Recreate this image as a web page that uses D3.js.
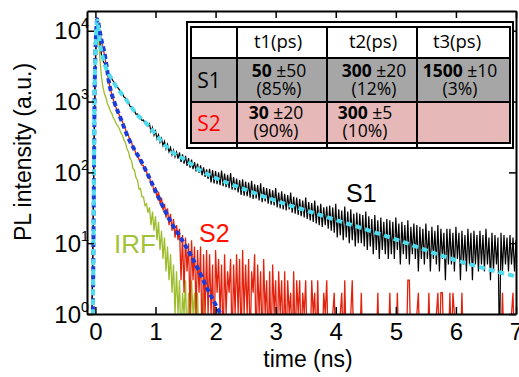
<!DOCTYPE html>
<html>
<head>
<meta charset="utf-8">
<script src="https://cdn.jsdelivr.net/npm/d3@7"></script>
<style>
  body { margin: 0; background: #fff; }
  svg { display: block; }
</style>
</head>
<body>
<script>
// time grid of the decay histograms (ns)
const t0 = -0.1, dt = 0.025;

// S1 counts, one value per dt
const s1Counts = [
  0,0,2,180,3500,13500,11000,6800,4600,3800,3450,3050,2750,2450,2250,2080,1920,1800,1680,1560,
  1460,1350,1300,1160,1120,1010,970,860,840,750,740,660,670,600,600,540,550,490,505,450,
  484,377,431,335,383,299,341,265,302,238,274,215,249,195,224,177,206,165,194,156,
  191,140,180,133,171,123,159,117,151,111,140,103,133,98,126,91,118,86,110,81,
  112,72,108,70,104,68,100,66,106,64,96,62,92,60,98,57,86,56,82,52,
  78,48,80,47,74,46,72,44,76,42,68,43,66,40,70,38,62,39,60,36,
  58,35,56,34,60,32,52,31,54,30,50,29,48,30,52,27,45,26,44,25,
  42,24,40,23,44,22,38,21,37,20,40,19,34,18,36,17,32,18,33,16,
  34,15,32,14,36,12,30,13,29,11,33,12,28,10,30,11,26,9,27,10,
  26,10,25,9,28,8,24,9,22,7,25,8,21,6,23,8,20,7,22,6,
  21,7,20,6,23,8,19,5,20,7,18,6,21,5,17,7,19,6,18,4,
  17,6,16,5,19,6,15,4,17,6,15,5,18,4,16,6,14,3,16,5,
  16,5,14,4,17,6,14,3,15,5,13,4,16,5,14,3,15,5,13,4,
  15,5,13,4,16,5,12,3,14,4,13,5,12,0,14,4,13,5,12,4,
  13,5,12,4,11
];

// S2 counts
const s2Counts = [
  0,0,3,200,4000,15000,13500,9500,7200,5800,4600,3500,2500,1900,1500,1250,1050,900,800,700,
  640,550,520,440,410,345,330,280,268,222,216,182,180,152,150,126,125,104,103,86,
  86,68,72,52,62,44,53,36,44,29,36,23,31,18,26,15,22,12,18,11,
  16,3,13,2,12,4,10,1,11,3,9,1,8,2,9,0,7,1,8,1,
  7,1,5,0,8,2,6,1,5,0,7,1,4,2,6,0,5,1,7,1,
  6,0,8,1,5,1,6,0,4,2,7,0,5,1,4,0,6,1,3,0,
  4,0,5,1,3,0,4,1,3,0,4,0,3,1,2,0,4,0,3,1,
  3,0,2,1,3,0,1,0,3,1,2,0,3,0,1,0,2,1,3,0,
  1,0,1,2,0,1,0,1,2,0,3,0,1,0,1,3,0,1,0,1,
  0,2,0,1,0,1,0,0,1,0,1,0,2,0,1,0,0,1,0,0,
  2,0,1,0,0,2,0,1,0,0,1,0,3,3,0,1,0,0,1,2,
  0,1,0,0,1,0,2,0,1,0,0,1,2,0,2,2,0,1,0,0,
  2,0,2,1,0,0,1,0,2,0,1,0,0,1,0,0,1,0,0,1,
  0,0,1,0,1,0,0,1,0,0,1,0,0,1,0,2,0,1,0,0,
  0,1,2,0,1
];

// instrument response
const irfCounts = [
  0,0,2,150,4000,14000,9000,4000,2250,1600,1300,1130,940,840,730,670,580,540,480,450,
  410,360,335,285,262,214,196,160,146,114,108,84,78,58,59,45,45,34,36,27,
  32,18,28,15,24,11,20,8,15,6,12,4,9,3,7,2,5,1,4,1,
  3,0,2,1,3,0,2,0,3,1,2,0,2,0,1,0,2,0,1,0,
  0,1,0,0
];

// fitted decays
const fitS1T = [-0.045,-0.03,-0.01,0.03,0.07,0.13,0.3,0.5,0.67,0.87,1.1,1.29,1.41,1.57,1.74,1.95,2.52,3.07,3.62,4.1,4.62,5.18,5.73,6.28,7.0];
const fitS1V = [0.5,20,2000,14000,7000,4000,1900,1100,690,470,275,190,166,135,107,87,56,38,27,20,14.5,10,6.8,4.9,3.4];
const fitS2T = [-0.045,-0.03,-0.01,0.03,0.07,0.10,0.15,0.24,0.32,0.43,0.54,0.65,0.74,0.82,0.91,1.07,1.24,1.41,1.57,1.74,1.87,2.02,2.1];
const fitS2V = [0.5,20,2000,14500,10000,7400,4900,1620,955,550,316,209,155,115,80,41,21,12.3,7.2,3.8,2.2,1.26,0.93];

const xTicks = [0,1,2,3,4,5,6,7];
const yTicks = [1,10,100,1000,10000];

// table contents
const tableHead = ["", "t1(ps)", "t2(ps)", "t3(ps)"];
const tableRows = ["S1", "S2"];
const tauS1 = [["50","±50","(85%)"],["300","±20","(12%)"],["1500","±10","(3%)"]];
const tauS2 = [["30","±20","(90%)"],["300","±5","(10%)"]];

const W = 519, H = 377;
const mLeft = 87, mRight = 516, mTop = 11, mBottom = 314;
const font = "'Liberation Sans', Arial, sans-serif";

const svg = d3.select("body").append("svg")
  .attr("width", W).attr("height", H)
  .style("background", "#fff");

const x = d3.scaleLinear().domain([-0.14, 7.0]).range([mLeft, mRight]);
const y = d3.scaleLog().domain([1, 19000]).range([mBottom, mTop]);

const toPts = arr => arr.map((v, i) => ({ t: t0 + i * dt, v }));
const yv = v => y(Math.max(v, 0.3));

svg.append("clipPath").attr("id", "plot")
  .append("rect").attr("x", mLeft).attr("y", mTop)
  .attr("width", mRight - mLeft).attr("height", mBottom - mTop);

const g = svg.append("g").attr("clip-path", "url(#plot)");

const dataLine = d3.line().x(d => x(d.t)).y(d => yv(d.v));

// raw histograms
g.append("path").datum(toPts(irfCounts))
  .attr("d", dataLine).attr("fill", "none")
  .attr("stroke", "#9dbd2c").attr("stroke-width", 1.3);

g.append("path").datum(toPts(s2Counts))
  .attr("d", dataLine).attr("fill", "none")
  .attr("stroke", "#e2220c").attr("stroke-width", 1.3);

g.append("path").datum(toPts(s1Counts))
  .attr("d", dataLine).attr("fill", "none")
  .attr("stroke", "#000").attr("stroke-width", 1.2);

// fits
const fitLine = d3.line().x(d => x(d.t)).y(d => yv(d.v)).curve(d3.curveMonotoneX);

g.append("path").datum(fitS2T.map((t, i) => ({ t, v: fitS2V[i] })))
  .attr("d", fitLine).attr("fill", "none")
  .attr("stroke", "#1c3cd8").attr("stroke-width", 4)
  .attr("stroke-dasharray", "5,3");

g.append("path").datum(fitS1T.map((t, i) => ({ t, v: fitS1V[i] })))
  .attr("d", fitLine).attr("fill", "none")
  .attr("stroke", "#4fdcef").attr("stroke-width", 4)
  .attr("stroke-dasharray", "6,4");

// axes, ticks pointing inwards on all four sides
const styleAxis = sel => {
  sel.select(".domain").attr("stroke", "#000").attr("stroke-width", 2);
  sel.selectAll(".tick line").attr("stroke", "#000").attr("stroke-width", 1.5);
};

const xAxis = svg.append("g").attr("transform", `translate(0,${mBottom})`)
  .call(d3.axisBottom(x).tickValues(xTicks).tickSizeInner(-7).tickSizeOuter(0)
    .tickPadding(9).tickFormat(d3.format("d")));
styleAxis(xAxis);
xAxis.selectAll("text").attr("font-family", font).attr("font-size", 24).attr("fill", "#000");

svg.append("g").attr("transform", `translate(0,${mTop})`)
  .call(d3.axisTop(x).tickValues(xTicks).tickSizeInner(-7).tickSizeOuter(0).tickFormat(""))
  .call(styleAxis);

const yAxis = svg.append("g").attr("transform", `translate(${mLeft},0)`)
  .call(d3.axisLeft(y).tickValues(yTicks).tickSizeInner(-7).tickSizeOuter(0).tickFormat(""));
styleAxis(yAxis);
yAxis.selectAll(".tick").each(function(d) {
  const tk = d3.select(this);
  tk.append("text").attr("x", -6).attr("y", 8).attr("text-anchor", "end")
    .attr("font-family", font).attr("font-size", 24).attr("fill", "#000")
    .text("10");
  tk.append("text").attr("x", -6).attr("y", -3).attr("text-anchor", "start")
    .attr("font-family", font).attr("font-size", 14).attr("fill", "#000")
    .text(Math.round(Math.log10(d)));
});

svg.append("g").attr("transform", `translate(${mRight},0)`)
  .call(d3.axisRight(y).tickValues(yTicks).tickSizeInner(-7).tickSizeOuter(0).tickFormat(""))
  .call(styleAxis);

// axis titles
svg.append("text").attr("x", 308).attr("y", 367).attr("text-anchor", "middle")
  .attr("font-family", font).attr("font-size", 23).text("time (ns)");
svg.append("text").attr("transform", "translate(31,152) rotate(-90)")
  .attr("text-anchor", "middle").attr("font-family", font).attr("font-size", 23)
  .text("PL intensity (a.u.)");

// curve labels
svg.append("text").attr("x", 346).attr("y", 202).attr("font-family", font)
  .attr("font-size", 25).attr("fill", "#000").text("S1");
svg.append("text").attr("x", 199).attr("y", 242).attr("font-family", font)
  .attr("font-size", 25).attr("fill", "#ff1200").text("S2");
svg.append("text").attr("x", 114).attr("y", 253).attr("font-family", font)
  .attr("font-size", 26).attr("fill", "#a3c23a").text("IRF");

// lifetime table
const tf = "'Open Sans', 'Noto Sans', sans-serif";
const colX = [191, 237, 327, 417, 510];
const rowY = [27, 58, 102, 143];
const tbl = svg.append("g");

tbl.append("rect").attr("x", 187).attr("y", 22).attr("width", 326).attr("height", 126)
  .attr("fill", "#fff").attr("stroke", "#000").attr("stroke-width", 2);
tbl.append("rect").attr("x", colX[0]).attr("y", rowY[1]).attr("width", colX[4] - colX[0])
  .attr("height", rowY[2] - rowY[1]).attr("fill", "#a6a6a6");
tbl.append("rect").attr("x", colX[0]).attr("y", rowY[2]).attr("width", colX[4] - colX[0])
  .attr("height", rowY[3] - rowY[2]).attr("fill", "#e6b8b7");
tbl.append("rect").attr("x", colX[0]).attr("y", rowY[0]).attr("width", colX[4] - colX[0])
  .attr("height", rowY[3] - rowY[0]).attr("fill", "none")
  .attr("stroke", "#000").attr("stroke-width", 2);
colX.slice(1, 4).forEach(cx => tbl.append("line")
  .attr("x1", cx).attr("x2", cx).attr("y1", rowY[0]).attr("y2", 148)
  .attr("stroke", "#000").attr("stroke-width", 2));
rowY.slice(1, 3).forEach(ry => tbl.append("line")
  .attr("x1", colX[0]).attr("x2", colX[4]).attr("y1", ry).attr("y2", ry)
  .attr("stroke", "#000").attr("stroke-width", 2));

const headX = [0, 278, 373, 457];
tableHead.forEach((h, i) => {
  if (!h) return;
  tbl.append("text").attr("x", headX[i]).attr("y", 48).attr("text-anchor", "middle")
    .attr("font-family", tf).attr("font-size", 18.5).text(h);
});
tbl.append("text").attr("x", 209).attr("y", 88).attr("text-anchor", "middle")
  .attr("font-family", tf).attr("font-size", 21).attr("fill", "#000").text(tableRows[0]);
tbl.append("text").attr("x", 209).attr("y", 131).attr("text-anchor", "middle")
  .attr("font-family", tf).attr("font-size", 21).attr("fill", "#ff0000").text(tableRows[1]);

// each cell is one two-line text: "value ±err" then "(share)"
const cell = (cx, yy, d) => {
  const t = tbl.append("text").attr("x", cx).attr("y", yy).attr("text-anchor", "middle")
    .attr("font-family", tf).attr("font-size", 17.5);
  const l1 = t.append("tspan").attr("x", cx).attr("y", yy);
  l1.append("tspan").attr("font-weight", "bold").text(d[0]);
  l1.append("tspan").text(" " + d[1]);
  t.append("tspan").attr("x", cx).attr("y", yy + 18).text(d[2]);
};
const s1X = [279, 374, 460], s2X = [276, 365];
tauS1.forEach((d, i) => cell(s1X[i], 77, d));
tauS2.forEach((d, i) => cell(s2X[i], 119, d));
</script>
</body>
</html>
